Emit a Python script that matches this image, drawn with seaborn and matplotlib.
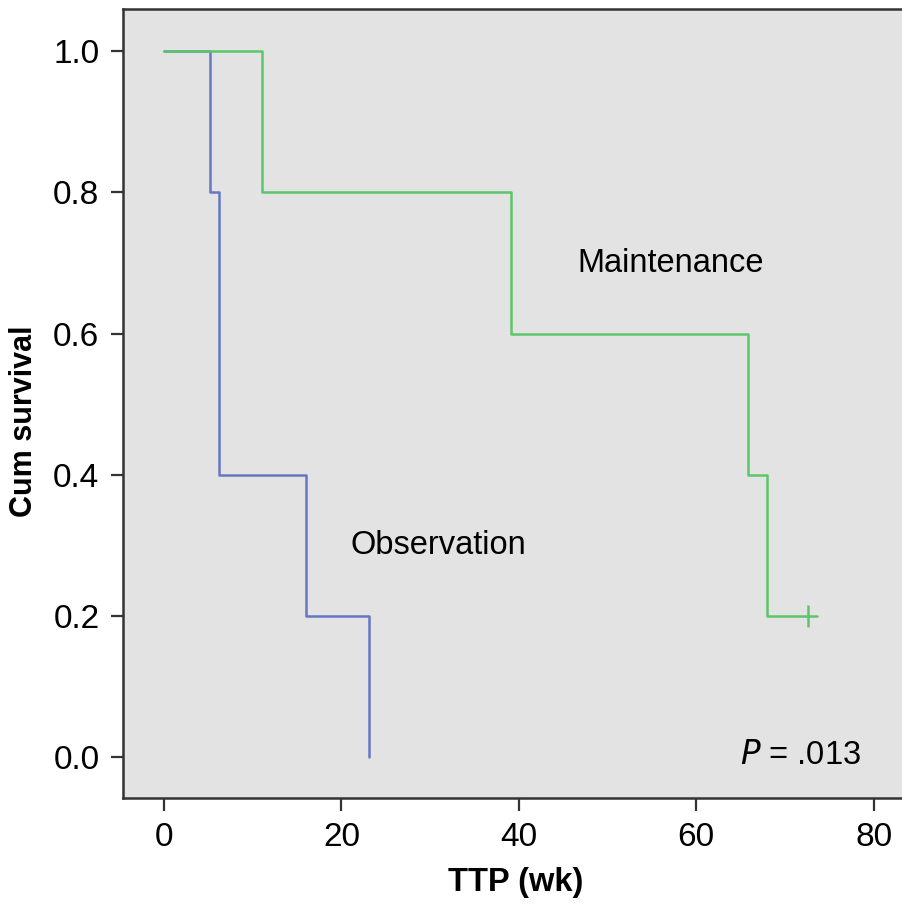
import pandas as pd
import seaborn as sns
from matplotlib import pyplot as plt

# step points of the two Kaplan-Meier curves (time in weeks, survival)
obs_time = [0, 5.2, 6.2, 16.0, 23.1]
obs_surv = [1.0, 0.8, 0.4, 0.2, 0.0]
mnt_time = [0, 11.0, 39.1, 65.8, 68.0, 73.6]
mnt_surv = [1.0, 0.8, 0.6, 0.4, 0.2, 0.2]
censor_time = [72.6]
censor_surv = [0.2]

x_ticks = [0, 20, 40, 60, 80]
y_ticks = [0.0, 0.2, 0.4, 0.6, 0.8, 1.0]

df = pd.concat([
    pd.DataFrame({"time": obs_time, "surv": obs_surv, "group": "Observation"}),
    pd.DataFrame({"time": mnt_time, "surv": mnt_surv, "group": "Maintenance"}),
])
cens = pd.DataFrame({"time": censor_time, "surv": censor_surv})

sns.set_style("ticks")
plt.rcParams["font.family"] = ["Liberation Sans", "DejaVu Sans"]
plt.rcParams["text.color"] = "black"
plt.rcParams["axes.labelcolor"] = "black"

fig = plt.figure(figsize=(9.03, 9.08), dpi=100)
ax = fig.add_axes([123 / 903, 1 - 798 / 908, 1 - 123 / 903, (798 - 9) / 908])
ax.set_facecolor("#e3e3e3")

pal = {"Observation": "#6577c3", "Maintenance": "#5cc66a"}
sns.lineplot(data=df, x="time", y="surv", hue="group", palette=pal,
             estimator=None, sort=False, drawstyle="steps-post",
             linewidth=1.8, legend=False, ax=ax)
sns.scatterplot(data=cens, x="time", y="surv", marker="|", s=260,
                color="#5cc66a", linewidth=1.8, ax=ax)

ax.set_xlim(-4.62, 83.3)
ax.set_ylim(-0.058, 1.06)
ax.set_xticks(x_ticks)
ax.set_yticks(y_ticks)
ax.set_yticklabels([f"{v:.1f}" for v in y_ticks])
ax.tick_params(labelsize=24, length=9, width=1.6, color="#333333",
               labelcolor="black", pad=8)

for side in ["left", "bottom", "top"]:
    ax.spines[side].set_color("#333333")
    ax.spines[side].set_linewidth(1.8)
ax.spines["right"].set_visible(False)

ax.set_xlabel("TTP (wk)", fontsize=23.5, fontweight="bold")
ax.set_ylabel("Cum survival", fontsize=22, fontweight="bold")
ax.xaxis.set_label_coords(0.503, -0.088)
ax.yaxis.set_label_coords(-0.108, 0.478)

ax.text(46.6, 0.700, "Maintenance", fontsize=23.5, ha="left", va="center")
ax.text(21.0, 0.300, "Observation", fontsize=23.5, ha="left", va="center")
ax.text(78.6, 0.002, r"$P$ = .013", fontsize=23.5, ha="right", va="center")

fig.savefig("out.png", dpi=100)
